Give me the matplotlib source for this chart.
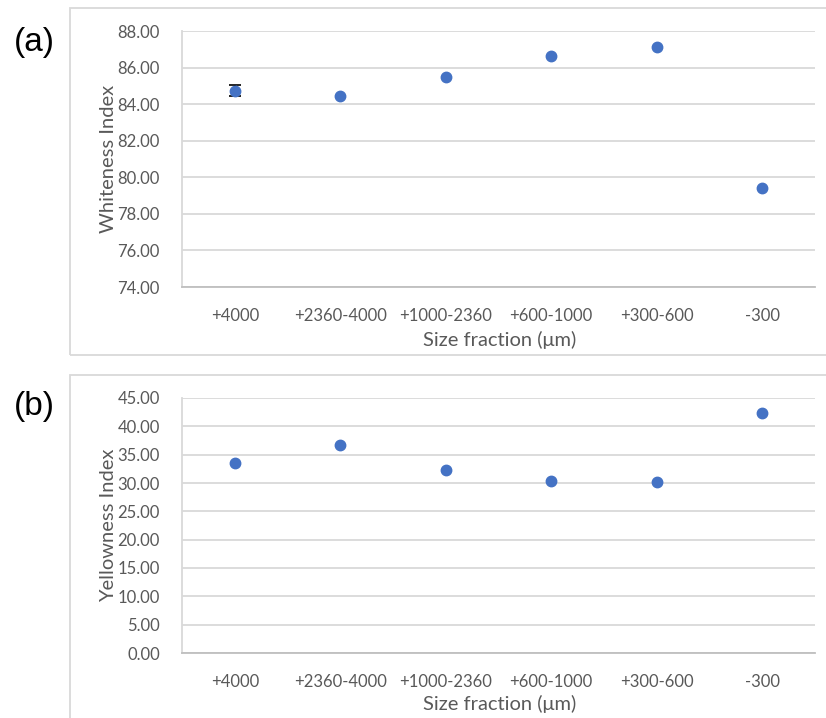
import matplotlib
matplotlib.use("Agg")
import matplotlib.pyplot as plt
from matplotlib.patches import Rectangle

# size fractions (µm) and measured colour indices
fractions = ["+4000", "+2360-4000", "+1000-2360", "+600-1000", "+300-600", "-300"]
whiteness = [84.74, 84.47, 85.46, 86.61, 87.14, 79.40]
whiteness_err = 0.30   # only the +4000 fraction has a replicate spread
yellowness = [33.6, 36.7, 32.3, 30.4, 30.2, 42.3]

blue = "#4472C4"
grey_text = "#595959"
grid_col = "#D9D9D9"
axis_col = "#BFBFBF"

plt.rcParams["font.family"] = ["Lato", "DejaVu Sans"]

fig = plt.figure(figsize=(8.26, 7.18), dpi=100)

W, H = 826.0, 718.0

# chart frames
for top, bottom in [(8, 355), (375, 730)]:
    fig.patches.append(Rectangle((70 / W, 1 - bottom / H), 1.0, (bottom - top) / H,
                                 transform=fig.transFigure, fill=False,
                                 edgecolor=grid_col, linewidth=1.3))

def make_axes(top_px, bottom_px):
    return fig.add_axes([182 / W, 1 - bottom_px / H, (815 - 182) / W, (bottom_px - top_px) / H])

ax1 = make_axes(31, 287)
ax2 = make_axes(398, 653)

x = list(range(len(fractions)))

def style(ax, ymin, ymax, step, ylabel, xlab_y):
    ax.set_xlim(-0.5, len(fractions) - 0.5)
    ax.set_ylim(ymin, ymax)
    ticks = [ymin + i * step for i in range(int(round((ymax - ymin) / step)) + 1)]
    ax.set_yticks(ticks)
    ax.set_yticklabels(["%.2f" % t for t in ticks])
    ax.set_xticks(x)
    ax.set_xticklabels(fractions)
    ax.grid(axis="y", color=grid_col, linewidth=1.3)
    ax.set_axisbelow(True)
    for s in ["top", "right"]:
        ax.spines[s].set_visible(False)
    ax.spines["left"].set_color(grid_col)
    ax.spines["left"].set_linewidth(1.3)
    ax.spines["bottom"].set_color(axis_col)
    ax.spines["bottom"].set_linewidth(1.3)
    ax.tick_params(axis="both", length=0, colors=grey_text, labelsize=12)
    ax.tick_params(axis="y", pad=16)
    ax.tick_params(axis="x", pad=15)
    ax.set_ylabel(ylabel, fontsize=14.5, color=grey_text)
    ax.yaxis.set_label_coords(-0.103, 0.5)
    ax.set_xlabel("Size fraction (μm)", fontsize=14.5, color=grey_text)
    ax.xaxis.set_label_coords(0.502, xlab_y)

style(ax1, 74, 88, 2, "Whiteness Index", -0.17)
style(ax2, 0, 45, 5, "Yellowness Index", -0.163)

ax1.errorbar(x[0], whiteness[0], yerr=whiteness_err, fmt="none", ecolor="black",
             elinewidth=1.2, capsize=4, capthick=1.2, zorder=3)
ax1.plot(x, whiteness, "o", color=blue, markersize=7.5, zorder=4)
ax2.plot(x, yellowness, "o", color=blue, markersize=7.5, zorder=4)

fig.text(14 / W, 1 - 43 / H, "(a)", fontsize=24, family="Liberation Sans", va="center", ha="left")
fig.text(14 / W, 1 - 407 / H, "(b)", fontsize=24, family="Liberation Sans", va="center", ha="left")

fig.savefig("out.png", dpi=100)
